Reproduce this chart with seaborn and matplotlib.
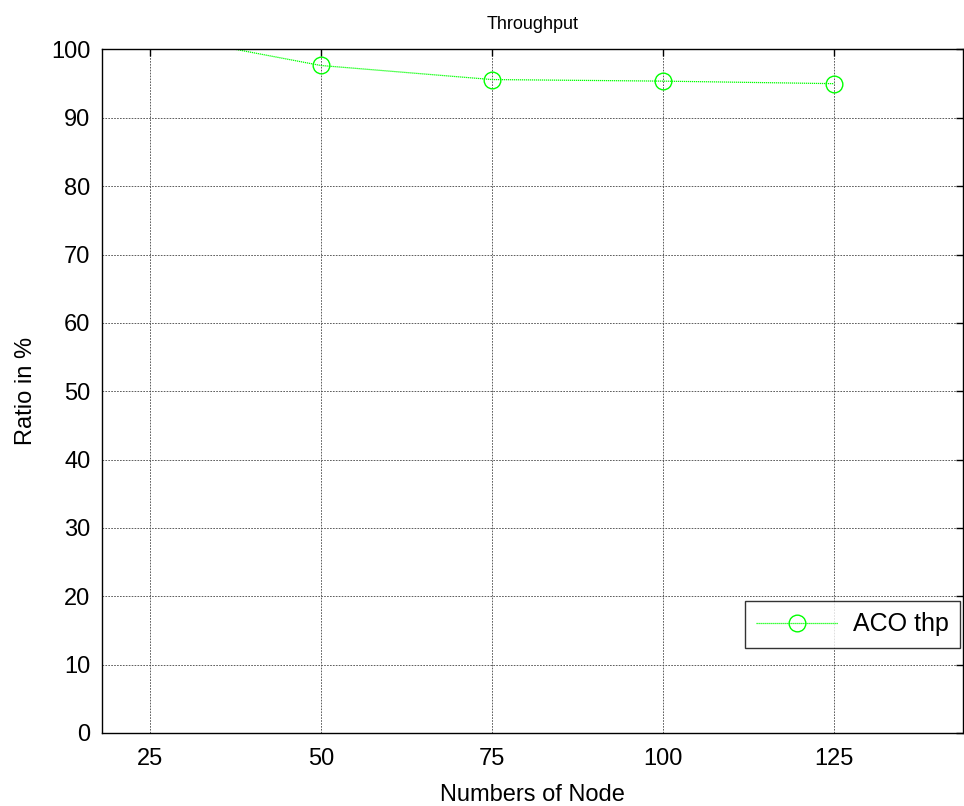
import matplotlib
matplotlib.use("Agg")
import matplotlib.pyplot as plt
import pandas as pd
import seaborn as sns

# data
nodes = [25, 50, 75, 100, 125]
throughput = [102.4, 97.66, 95.6, 95.37, 95.0]
series_name = "ACO thp"
x_ticks = [25, 50, 75, 100, 125]
y_ticks = list(range(0, 101, 10))

FONT_SIZE = 17
GREEN = "#00ff00"


def main() -> None:
    sns.set_style("white")
    plt.rcParams.update(
        {
            "font.family": ["Liberation Sans", "DejaVu Sans"],
            "font.size": FONT_SIZE,
            "axes.linewidth": 1.0,
            "text.color": "black",
            "axes.labelcolor": "black",
            "xtick.color": "black",
            "ytick.color": "black",
        }
    )

    df = pd.DataFrame({"nodes": nodes, "throughput": throughput, "series": series_name})

    fig = plt.figure(figsize=(9.64, 8.06), dpi=100, facecolor="white")
    ax = fig.add_axes([0.1055, 0.0906, 0.8935, 0.848])

    sns.lineplot(
        data=df,
        x="nodes",
        y="throughput",
        hue="series",
        palette=[GREEN],
        linestyle=(0, (1, 0.6)),
        linewidth=0.9,
        marker="o",
        markersize=12,
        markerfacecolor="none",
        markeredgecolor=GREEN,
        markeredgewidth=1.0,
        ax=ax,
    )

    ax.set_xlim(18, 143.8)
    ax.set_ylim(0, 100)
    ax.set_xticks(x_ticks)
    ax.set_yticks(y_ticks)
    ax.grid(True, color="#444444", linestyle=(0, (2, 1.5)), linewidth=0.6)
    ax.tick_params(axis="both", direction="in", length=5, width=1.0,
                   top=True, right=True, labelsize=FONT_SIZE)
    ax.tick_params(axis="x", pad=11)
    ax.tick_params(axis="y", pad=8)
    for spine in ax.spines.values():
        spine.set_visible(True)
        spine.set_color("black")
        spine.set_linewidth(1.0)

    ax.set_title("Throughput", fontsize=13, pad=15, color="black")
    ax.set_xlabel("Numbers of Node", fontsize=FONT_SIZE, labelpad=10)
    ax.set_ylabel("Ratio in %", fontsize=FONT_SIZE, labelpad=10)

    leg = ax.legend(
        loc="lower right",
        bbox_to_anchor=(0.997, 0.125),
        fontsize=FONT_SIZE + 1,
        frameon=True,
        fancybox=False,
        edgecolor="black",
        handlelength=3.3,
        handletextpad=0.6,
        borderpad=0.45,
        borderaxespad=0.0,
    )
    leg.get_frame().set_linewidth(1.0)

    fig.savefig("out.png", dpi=100, facecolor="white")
    plt.close(fig)


if __name__ == "__main__":
    main()
